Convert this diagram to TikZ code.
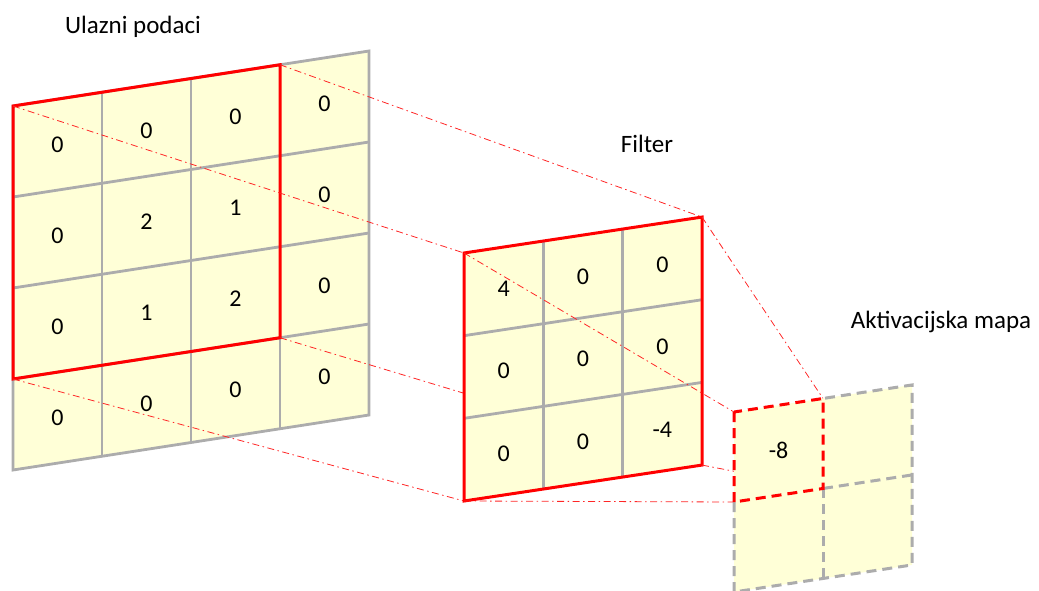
\documentclass[tikz,border=0pt]{standalone}
\usepackage{fontspec}
\setmainfont{Carlito}
\definecolor{cellfill}{RGB}{255,255,215}
\definecolor{gridgray}{RGB}{172,172,172}
\definecolor{pred}{RGB}{255,0,0}
\begin{document}
\begin{tikzpicture}[x=1pt,y=-1pt,
  gridline/.style={draw=gridgray, line width=2.8pt},
  redframe/.style={draw=pred, line width=3pt, line join=miter},
  proj/.style={draw=pred!85, line width=0.8pt, dash pattern=on 7pt off 3.5pt on 1.5pt off 3.5pt},
  digit/.style={font=\fontsize{24}{28}\selectfont, inner sep=0pt},
  caption/.style={font=\fontsize{25}{30}\selectfont, inner sep=0pt, anchor=base},
  dgray/.style={draw=gridgray, line width=3pt, dash pattern=on 10pt off 6pt},
  dred/.style={draw=pred, line width=3pt, dash pattern=on 10pt off 6pt},
  inputgrid/.style={shift={(13,106)}, yslant=0.1545},
  filtergrid/.style={shift={(464,253)}, yslant=0.151},
  actgrid/.style={shift={(734,412)}, yslant=0.152},
]
\useasboundingbox (0,0) rectangle (1039,590);

% named corners
\begin{scope}[inputgrid]
  \coordinate (inTL) at (0,0);
  \coordinate (inTR) at (267,0);
  \coordinate (inBL) at (0,273);
  \coordinate (inBR) at (267,273);
\end{scope}
\begin{scope}[filtergrid]
  \coordinate (fTL) at (0,0);
  \coordinate (fTR) at (238,0);
  \coordinate (fBL) at (0,248);
  \coordinate (fBR) at (238,248);
\end{scope}
\begin{scope}[actgrid]
  \coordinate (aTL) at (0,0);
  \coordinate (aTR) at (89,0);
  \coordinate (aBL) at (0,90);
  \coordinate (aBR) at (89,90);
\end{scope}

% input grid
\begin{scope}[inputgrid]
  \fill[cellfill] (0,0) rectangle (356,364);
  \foreach \k in {1,2,3} {
    \draw[gridline] (89*\k,0) -- (89*\k,364);
    \draw[gridline] (0,91*\k) -- (356,91*\k);
  }
  \draw[gridline] (0,0) rectangle (356,364);
  \draw[redframe] (0,0) rectangle (267,273);
\end{scope}

% projections input -> filter
\draw[proj] (inTL) -- (fTL);
\draw[proj] (inTR) -- (fTR);
\draw[proj] (inBL) -- (fBL);
\draw[proj] (inBR) -- (fBR);

% filter
\begin{scope}[filtergrid]
  \fill[cellfill] (0,0) rectangle (238,248);
  \foreach \k in {1,2} {
    \draw[gridline] (79.33*\k,0) -- (79.33*\k,248);
    \draw[gridline] (0,82.67*\k) -- (238,82.67*\k);
  }
  \draw[redframe] (0,0) rectangle (238,248);
\end{scope}

% projections filter -> activation map
\draw[proj] (fTL) -- (aTL);
\draw[proj] (fTR) -- (aTR);
\draw[proj] (fBL) -- (aBL);
\draw[proj] (fBR) -- (aBR);

% activation map
\begin{scope}[actgrid]
  \fill[cellfill] (0,0) rectangle (178,180);
  \draw[dgray] (89,90) -- (89,180);
  \draw[dgray] (89,90) -- (178,90);
  \draw[dgray] (0,90) -- (0,180) -- (178,180) -- (178,0) -- (89,0);
  \draw[dred] (0,0) rectangle (89,90);
\end{scope}

% digits
\begin{scope}[inputgrid]
  \foreach \r/\c/\v in {0/0/0,0/1/0,0/2/0,0/3/0,
                        1/0/0,1/1/2,1/2/1,1/3/0,
                        2/0/0,2/1/1,2/2/2,2/3/0,
                        3/0/0,3/1/0,3/2/0,3/3/0}
    \node[digit] (in-\r-\c) at ({89*(\c+0.5)},{91*(\r+0.5)}) {\v};
\end{scope}
\begin{scope}[filtergrid]
  \foreach \r/\c/\v in {0/0/4,0/1/0,0/2/0,
                        1/0/0,1/1/0,1/2/0,
                        2/0/0,2/1/0,2/2/-4}
    \node[digit] (f-\r-\c) at ({79.33*(\c+0.5)},{82.67*(\r+0.5)}) {\v};
\end{scope}
\begin{scope}[actgrid]
  \node[digit] (a-0-0) at (44.5,45) {-8};
\end{scope}

% captions
\node[caption] (capIn) at (133,33) {Ulazni podaci};
\node[caption] (capF) at (647,152) {Filter};
\node[caption] (capA) at (941,328) {Aktivacijska mapa};
\end{tikzpicture}
\end{document}
